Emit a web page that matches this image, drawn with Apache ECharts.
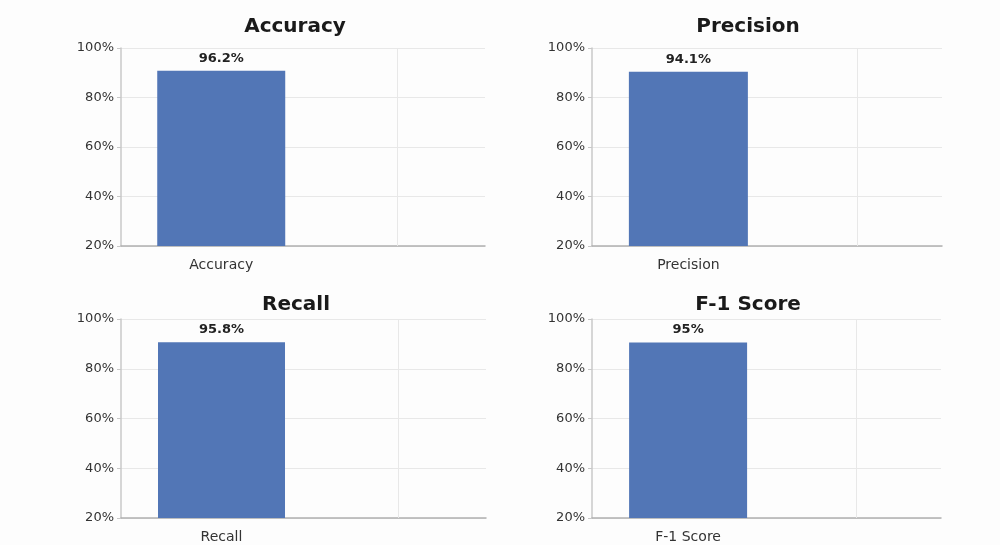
<!DOCTYPE html>
<html>
<head>
<meta charset="utf-8">
<script src="https://cdn.jsdelivr.net/npm/echarts@6/dist/echarts.min.js"></script>
<style>
html,body{margin:0;padding:0;background:#fdfdfd;}
#main{width:1000px;height:545px;}
</style>
</head>
<body>
<div id="main"></div>
<script>
// ---- data ----
const categories = ['Accuracy', 'Precision', 'Recall', 'F-1 Score'];
const barValues = [90.8, 90.4, 90.7, 90.6];          // bar heights as drawn (%)
const valueLabels = ['96.2%', '94.1%', '95.8%', '95%']; // printed labels
const yTickValues = [20, 40, 60, 80, 100];

// ---- layout (per panel) ----
const panels = [
  { left: 121, top: 48, width: 364, height: 198, barWidth: 128, titleX: 295, titleY: 27 },
  { left: 592, top: 48, width: 350, height: 198, barWidth: 119, titleX: 748, titleY: 27 },
  { left: 121, top: 319, width: 365, height: 199, barWidth: 127, titleX: 296, titleY: 305 },
  { left: 592, top: 319, width: 349, height: 199, barWidth: 118, titleX: 748, titleY: 305 }
];
const FONT = '"DejaVu Sans", "Noto Sans", sans-serif';

const chart = echarts.init(document.getElementById('main'), null, { renderer: 'canvas' });

const grid = [], xAxis = [], yAxis = [], series = [], graphic = [];
panels.forEach((p, i) => {
  grid.push({ left: p.left, top: p.top, width: p.width, height: p.height, containLabel: false });
  xAxis.push({
    type: 'value', gridIndex: i, min: -0.57, max: 1.5,
    axisLine: { show: true, onZero: false, lineStyle: { color: '#b0b0b0', width: 1.5 } },
    axisTick: { show: false },
    splitLine: { show: false },
    axisLabel: {
      customValues: [0],
      formatter: () => categories[i],
      color: '#333', fontSize: 14, fontFamily: FONT, margin: 12
    }
  });
  yAxis.push({
    type: 'value', gridIndex: i, min: 20, max: 100, interval: 20,
    axisLine: { show: true, onZero: false, lineStyle: { color: '#c8c8c8', width: 1.5 } },
    axisTick: { show: true, length: 4, lineStyle: { color: '#c8c8c8' } },
    splitLine: { show: true, lineStyle: { color: '#e8e8e8', width: 1 } },
    axisLabel: {
      formatter: v => yTickValues.includes(v) ? v + '%' : '',
      color: '#333', fontSize: 13, fontFamily: FONT, margin: 7
    }
  });
  series.push({
    type: 'bar', xAxisIndex: i, yAxisIndex: i,
    data: [[0, barValues[i]]],
    barWidth: p.barWidth,
    itemStyle: { color: '#5276b6' },
    label: {
      show: true, position: 'top', distance: 6,
      formatter: () => valueLabels[i],
      color: '#222', fontWeight: 'bold', fontSize: 13, fontFamily: FONT
    },
    markLine: {
      silent: true, symbol: 'none', label: { show: false },
      lineStyle: { color: '#e8e8e8', type: 'solid', width: 1 },
      data: [{ xAxis: 1 }],
      animation: false
    },
    animation: false
  });
  graphic.push({
    type: 'text', x: p.titleX, y: p.titleY,
    style: {
      text: categories[i], align: 'center', verticalAlign: 'middle',
      fill: '#1a1a1a', font: 'bold 20px ' + FONT
    }
  });
});

chart.setOption({
  backgroundColor: '#fdfdfd',
  animation: false,
  grid, xAxis, yAxis, series, graphic
});
</script>
</body>
</html>
